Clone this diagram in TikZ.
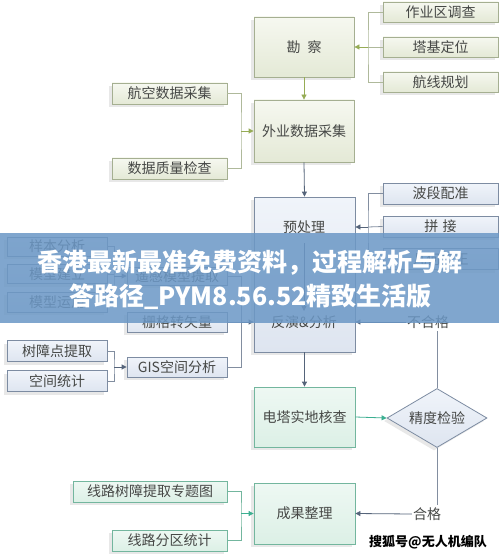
\documentclass[tikz,border=0pt]{standalone}
\usepackage{fontspec}
\setmainfont{Noto Sans CJK SC}
\newfontfamily\cjk{Noto Sans CJK SC}
\usetikzlibrary{arrows.meta,shapes.geometric,shadows}
\definecolor{gtop}{RGB}{246,248,240}
\definecolor{gbot}{RGB}{228,233,214}
\definecolor{gdraw}{RGB}{165,175,145}
\definecolor{garrow}{RGB}{150,172,85}
\definecolor{gline}{RGB}{175,185,155}
\definecolor{btop}{RGB}{240,244,250}
\definecolor{bbot}{RGB}{222,229,240}
\definecolor{bdraw}{RGB}{125,140,162}
\definecolor{barrow}{RGB}{85,100,122}
\definecolor{bline}{RGB}{130,142,160}
\definecolor{ttop}{RGB}{238,248,243}
\definecolor{tbot}{RGB}{220,240,230}
\definecolor{tdraw}{RGB}{115,182,158}
\definecolor{tarrow}{RGB}{60,175,145}
\definecolor{txt}{RGB}{70,72,70}
\definecolor{banner}{RGB}{108,152,198}
\tikzset{
  base/.style={line width=0.8pt, inner sep=0pt, text=txt, font=\cjk\fontsize{14}{14}\selectfont,
    drop shadow={shadow xshift=-3pt, shadow yshift=-3pt, opacity=0.18}},
  gbox/.style={base, draw=gdraw, top color=gtop, bottom color=gbot},
  bbox/.style={base, draw=bdraw, top color=btop, bottom color=bbot},
  tbox/.style={base, draw=tdraw, top color=ttop, bottom color=tbot},
  lbl/.style={inner sep=1pt, text=txt, font=\cjk\fontsize{14}{14}\selectfont},
  tip/.style={-{Triangle[length=5pt,width=5pt]}},
  gl/.style={draw=gline, line width=0.8pt},
  ga/.style={tip, draw=garrow, line width=0.8pt},
  bl/.style={draw=bline, line width=0.8pt},
  ba/.style={tip, draw=barrow, line width=0.8pt},
  tl/.style={draw=tdraw, line width=0.8pt},
  ta/.style={tip, draw=tarrow, line width=0.8pt},
}
\begin{document}
\begin{tikzpicture}[x=1pt,y=-1pt]
\useasboundingbox[fill=white] (0,0) rectangle (499,556);
% ---------- top (green) ----------
\node[gbox, minimum width=115pt, minimum height=20pt] (zy) at (440.5,12) {作业区调查};
\node[gbox, minimum width=115pt, minimum height=20pt] (tj) at (440.5,47) {塔基定位};
\node[gbox, minimum width=115pt, minimum height=20pt] (hx) at (440.5,82) {航线规划};
\node[gbox, minimum width=100pt, minimum height=60pt] (kc) at (304,47) {勘\hspace{0.5em}察};
\node[gbox, minimum width=100pt, minimum height=62pt] (wy) at (304,131) {外业数据采集};
\node[gbox, minimum width=115pt, minimum height=21pt] (hk) at (169.5,93.5) {航空数据采集};
\node[gbox, minimum width=115pt, minimum height=21pt] (sj) at (169.5,168.5) {数据质量检查};
\coordinate (b1) at (368,47);
\coordinate (b2) at (241,131);
\draw[gl] (zy.west) -| (b1) |- (hx.west);
\draw[gl] (tj.west) -- (b1);
\draw[ga] (b1) -- (kc.east);
\draw[ga] (kc.south) -- (wy.north);
\draw[gl] (hk.east) -| (b2) |- (sj.east);
\draw[ga] (b2) -- (wy.west);
% ---------- middle (blue) ----------
\node[bbox, minimum width=101pt, minimum height=155pt] (yc) at (304.5,274.5) {};
\node[lbl] (ycl) at (304,227) {预处理};
\node[lbl] (fy) at (304,322) {反演\&分析};
\coordinate (i1) at (304,243);
\coordinate (i2) at (304,311);
\draw[ba] (i1) -- (i2);
\node[bbox, minimum width=115pt, minimum height=21pt] (bd) at (440.5,193.5) {波段配准};
\node[bbox, minimum width=115pt, minimum height=21pt] (pj) at (440.5,226.5) {拼\hspace{0.3em}接};
\node[bbox, minimum width=115pt, minimum height=21pt] (jh) at (440.5,259) {几何校正};
\node[bbox, minimum width=100pt, minimum height=19pt] (yb) at (57,246.5) {样本分析};
\node[bbox, minimum width=100pt, minimum height=19pt] (mx) at (57,274) {模型建立};
\node[bbox, minimum width=100pt, minimum height=20pt] (my) at (57,302) {模型运用};
\node[bbox, minimum width=100pt, minimum height=18pt] (yg) at (177,276) {遥感模型提取};
\node[bbox, minimum width=100pt, minimum height=20pt] (sg) at (177,322) {栅格转矢量};
\node[bbox, minimum width=100pt, minimum height=21pt] (sz) at (57,351) {树障点提取};
\node[bbox, minimum width=100pt, minimum height=21pt] (kj) at (57,381) {空间统计};
\node[bbox, minimum width=100pt, minimum height=20pt] (gis) at (177,367) {GIS空间分析};
\coordinate (b3) at (368,227);
\coordinate (b4) at (114,276);
\coordinate (b5) at (241,322);
\coordinate (b6) at (114,367);
\draw[bl] (bd.west) -| (b3) |- (jh.west);
\draw[bl] (pj.west) -- (b3);
\draw[ba] (b3) -- (b3 -| yc.east);
\draw[bl] (yb.east) -| (b4) |- (my.east);
\draw[bl] (mx.east) -- (mx.east -| b4);
\draw[ba] (b4) -- (yg.west);
\draw[bl] (yg.east) -| (b5);
\draw[bl] (gis.east) -| (b5);
\draw[bl] (sg.east) -- (b5);
\draw[ba] (b5) -- (b5 -| yc.west);
\draw[bl] (sz.east) -| (b6) |- (kj.east);
\draw[ba] (b6) -- (gis.west);
\draw[ba] (wy.south) -- (yc.north);
% ---------- bottom (teal) ----------
\node[tbox, minimum width=101pt, minimum height=60pt] (dt) at (304.5,417) {电塔实地核查};
\node[tbox, minimum width=101pt, minimum height=61pt] (cg) at (304.5,513.5) {成果整理};
\node[base, diamond, aspect=1.7, draw=bdraw, top color=btop, bottom color=bbot,
      minimum width=100pt, minimum height=59pt] (jd) at (437,418) {精度检验};
\node[tbox, minimum width=154pt, minimum height=21pt] (xl) at (150,491.5) {线路树障提取专题图};
\node[tbox, minimum width=115pt, minimum height=21pt] (fq) at (169.5,540.5) {线路分区统计};
\node[lbl, fill=white] (bhg) at (428,322) {不合格};
\node[lbl, fill=white] (hg) at (427,514) {合格};
\coordinate (u1) at (437,331);
\coordinate (u2) at (437,505);
\coordinate (b7) at (241,513.5);
\draw[ba] (yc.south) -- (dt.north);
\draw[ta] (dt.east) -- (jd.west);
\draw[bl] (jd.north) -- (u1);
\draw[ba] (bhg.west) -- (bhg.west -| yc.east);
\draw[bl] (jd.south) -- (u2);
\draw[ba] (hg.west) -- (cg.east);
\draw[tl] (xl.east) -| (b7) |- (fq.east);
\draw[ta] (b7) -- (cg.west);
% ---------- overlay banner ----------
\fill[banner, opacity=0.86] (0,233) rectangle (499,323);
\node[text=white, font=\cjk\bfseries\fontsize{25}{25}\selectfont, inner sep=0pt] (t1) at (250,263) {香港最新最准免费资料，过程解析与解};
\node[text=white, font=\cjk\bfseries\fontsize{25}{25}\selectfont, inner sep=0pt] (t2) at (250.5,297) {答路径\_PYM8.56.52精致生活版};
\node[text=black, font=\cjk\bfseries\fontsize{13}{13}\selectfont, inner sep=0pt] (wm) at (428,542) {搜狐号@无人机编队};
\end{tikzpicture}
\end{document}
